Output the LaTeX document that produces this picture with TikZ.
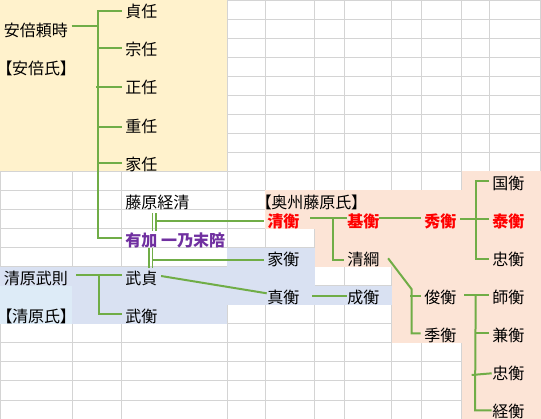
\documentclass[tikz,border=0pt]{standalone}
\usepackage{fontspec}
\usetikzlibrary{calc}
\newfontfamily\jp{Noto Sans CJK JP}
\newfontfamily\jpp[RawFeature=+palt]{Noto Sans CJK JP}
\definecolor{gridc}{HTML}{D4D4D4}
\definecolor{abefill}{HTML}{FFF2CC}
\definecolor{oshufill}{HTML}{FCE4D6}
\definecolor{kiyofill}{HTML}{D9E1F2}
\definecolor{kiyofilltwo}{HTML}{DDEBF7}
\definecolor{linkc}{HTML}{70AD47}
\definecolor{redc}{HTML}{FF0000}
\definecolor{purplec}{HTML}{7030A0}
\begin{document}
\begin{tikzpicture}[x=1pt,y=-1pt,
 lbl/.style={anchor=west,inner xsep=3.5pt,inner ysep=0pt,text height=11.6pt,text depth=0pt,font=\jp\fontsize{16}{16}\selectfont},
 brk/.style={lbl,font=\jpp\fontsize{16}{16}\selectfont},
 heir/.style={lbl,text=redc,font=\jp\fontsize{16}{16}\selectfont\bfseries},
 wife/.style={lbl,text=purplec,font=\jp\fontsize{16}{16}\selectfont\bfseries},
 link/.style={draw=linkc,line width=2pt},
 wed/.style={draw=linkc,line width=1.7pt},
 gridl/.style={draw=gridc,line width=1pt}]
\useasboundingbox (0,0) rectangle (541,419);
% grid
\foreach \k in {0,...,22} \draw[gridl] (0,{max(0.5,19.05*\k)}) -- (541,{max(0.5,19.05*\k)});
\foreach \x in {0.5,72,121,227,265,314.5,344.5,391.5,421.5,461.5,489.5,540} \draw[gridl] (\x,0) -- (\x,419);
% fills
\fill[abefill] (0,0) rectangle (226.5,171.45);
\fill[oshufill] (265,190.5) rectangle (541,228.6);
\fill[oshufill] (314.5,228.6) rectangle (541,266.7);
\fill[oshufill] (391.5,266.7) rectangle (541,342.9);
\fill[oshufill] (461.5,171.45) rectangle (541,419);
\fill[kiyofill] (227,247.65) rectangle (314.5,266.7);
\fill[kiyofill] (0,266.7) rectangle (314.5,285.75);
\fill[kiyofill] (0,285.75) rectangle (391.5,304.8);
\fill[kiyofill] (0,304.8) rectangle (226.5,323.85);
\fill[kiyofilltwo] (0,285.75) rectangle (72,323.85);
% nodes
\node[lbl] (yoritoki) at (0.3,31.05) {安倍頼時};
\node[brk] (abeshi) at (0.5,69.15) {【安倍氏】};
\node[lbl] (sadato) at (121.7,12) {貞任};
\node[lbl] (muneto) at (121.7,50.1) {宗任};
\node[lbl] (masato) at (121.7,88.2) {正任};
\node[lbl] (shigeto) at (121.7,126.3) {重任};
\node[lbl] (ieto) at (121.7,164.4) {家任};
\node[lbl] (tsunekiyo) at (121.7,202.5) {藤原経清};
\node[wife] (ariga) at (121.7,240.6) {有加 一乃末陪};
\node[lbl] (takenori) at (0.3,278.7) {清原武則};
\node[brk] (kiyoharashi) at (0.5,316.8) {【清原氏】};
\node[lbl] (takesada) at (121.7,278.7) {武貞};
\node[lbl] (takehira) at (121.7,316.8) {武衡};
\node[brk] (oshu) at (259.7,202.5) {【奥州藤原氏】};
\node[heir] (kiyohira) at (263.7,221.55) {清衡};
\node[lbl] (iehira) at (263.7,259.65) {家衡};
\node[lbl] (sanehira) at (263.7,297.75) {真衡};
\node[heir] (motohira) at (343.7,221.55) {基衡};
\node[lbl] (kiyotsuna) at (343.7,259.65) {清綱};
\node[lbl] (narihira) at (343.7,297.75) {成衡};
\node[heir] (hidehira) at (420.7,221.55) {秀衡};
\node[lbl] (toshihira) at (420.7,297.75) {俊衡};
\node[lbl] (suehira) at (420.7,335.85) {季衡};
\node[lbl] (kunihira) at (488.7,183.45) {国衡};
\node[heir] (yasuhira) at (488.7,221.55) {泰衡};
\node[lbl] (tadahira1) at (488.7,259.65) {忠衡};
\node[lbl] (morohira) at (488.7,297.75) {師衡};
\node[lbl] (kanehira) at (488.7,335.85) {兼衡};
\node[lbl] (tadahira2) at (488.7,373.95) {忠衡};
\node[lbl] (tsunehira) at (488.7,412.05) {経衡};
% Abe connectors
\coordinate (abetop) at (98.3,11);
\coordinate (abebot) at (98.3,238.3);
\coordinate (abej) at (98.3,25.7);
\draw[link] (sadato.west |- abetop) -- (abetop) -- (abebot) -- (ariga.west |- abebot);
\draw[link] (yoritoki.east |- abej) -- (abej);
\coordinate (abe2) at (98.3,48.3); \draw[link] (abe2) -- (muneto.west |- abe2);
\coordinate (abe4) at (96,87.3); \draw[link] (abe4) -- (masato.west |- abe4);
\coordinate (abe6) at (98.3,126.7); \draw[link] (abe6) -- (shigeto.west |- abe6);
\coordinate (abe8) at (98.3,163.3); \draw[link] (abe8) -- (ieto.west |- abe8);
% marriages
\coordinate (wat) at (152.5,213.3); \coordinate (wab) at (152.5,230.7);
\draw[wed] (wat) -- (wab); \draw[wed] ($(wat)+(3.3,0)$) -- ($(wab)+(3.3,0)$);
\coordinate (wah) at (155.8,220.7);
\draw[link] (wah) -- (kiyohira.west |- wah);
\coordinate (wbt) at (149.2,248.3); \coordinate (wbb) at (149.2,268);
\draw[wed] (wbt) -- (wbb); \draw[wed] ($(wbt)+(3.3,0)$) -- ($(wbb)+(3.3,0)$);
\coordinate (wbh) at (152.5,259.7);
\draw[link] (wbh) -- (iehira.west |- wbh);
% Kiyohara connectors
\coordinate (kj) at (99.3,275); \coordinate (kb) at (99.3,314.3);
\draw[link] ($(takenori.east |- kj)+(4.5,0)$) -- (takesada.west |- kj);
\draw[link] (kj) -- (kb) -- (takehira.west |- kb);
\coordinate (ds) at (159.3,276); \coordinate (de) at (266.7,293.3);
\draw[link] (takesada.east |- ds) -- ($(sanehira.west |- de)+(3,0)$);
% Oshu connectors
\coordinate (oa) at (333.3,217.7); \coordinate (ob) at (333.3,260.3);
\draw[link] ($(kiyohira.east |- oa)+(7,0)$) -- ($(motohira.west |- oa)+(3,0)$);
\draw[link] (oa) -- (ob) -- (kiyotsuna.west |- ob);
\coordinate (oc) at (0,218.5);
\draw[link] ($(motohira.east |- oc)+(-4,0)$) -- (hidehira.west |- oc);
\coordinate (hj) at (475.7,219.3); \coordinate (ht) at (475.7,181.3); \coordinate (hb) at (475.7,259.3);
\draw[link] (hidehira.east |- hj) -- (yasuhira.west |- hj);
\draw[link] (kunihira.west |- ht) -- (ht) -- (hb) -- (tadahira1.west |- hb);
\coordinate (ks) at (387.3,258.3); \coordinate (kt) at (411.7,289.3); \coordinate (kbm) at (411.7,333.3);
\draw[link] ($(kiyotsuna.east |- ks)+(5,0)$) -- (kt) -- (kbm) -- (suehira.west |- kbm);
\coordinate (kst) at (410,295.7); \draw[link] (kst) -- (toshihira.west |- kst);
\coordinate (sn) at (0,296);
\draw[link] ($(sanehira.east |- sn)+(9,0)$) -- ($(narihira.west |- sn)+(3,0)$);
\coordinate (tj) at (475.7,295.5); \coordinate (tb) at (475,410.5);
\draw[link] ($(toshihira.east |- tj)+(4,0)$) -- (morohira.west |- tj);
\draw[link] (tj) -- (tb) -- ($(tsunehira.west |- tb)+(3,0)$);
\coordinate (ttwo) at (475.7,332.7); \draw[link] (ttwo) -- (kanehira.west |- ttwo);
\coordinate (tthree) at (471.7,375); \coordinate (tthreee) at (0,373.3);
\draw[link] (tthree) -- ($(tadahira2.west |- tthreee)+(3,0)$);
\end{tikzpicture}
\end{document}
